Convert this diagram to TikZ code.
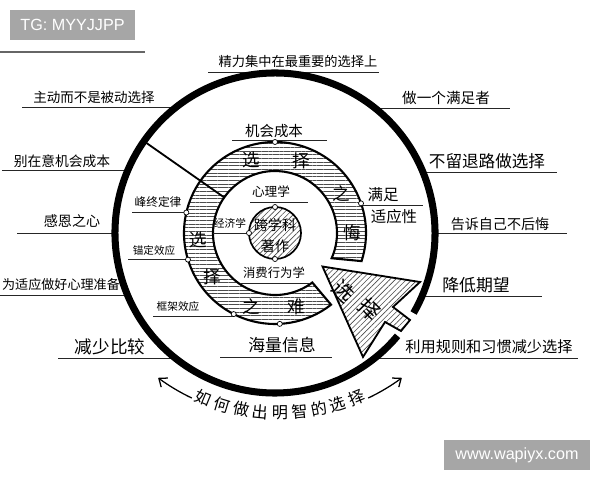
\documentclass[tikz,border=0pt]{standalone}
\usepackage{fontspec}
\setmainfont{Liberation Sans}
\newfontfamily\cjk{Noto Sans CJK SC}
\usetikzlibrary{patterns.meta,arrows.meta,calc}
\tikzset{
  lbl/.style={inner sep=0pt},
  uline/.style={line width=0.7pt, black!85},
  dotnode/.style={circle, draw, fill=white, line width=0.5pt, inner sep=0pt, minimum size=3.6pt},
  band/.style={draw, line width=1.5pt, pattern={Lines[angle=0,distance=2.6pt,line width=0.4pt]}, pattern color=black!70},
  hatch/.style={pattern={Lines[angle=45,distance=2.8pt,line width=0.45pt]}, pattern color=black!70},
  wmbox/.style={fill=black!35, text=white, font=\fontsize{11.5}{12}\selectfont, inner sep=0pt, minimum height=0.75cm},
  barrow/.style={line width=0.9pt, -{Straight Barb[length=5pt,width=8pt]}},
}
% name, size, text, cx, cy, x1, x2, yline
\newcommand\ulab[8]{%
  \node[lbl, font=\cjk\fontsize{#2}{#2}\selectfont] (#1) at (#4,-#5) {#3};
  \coordinate (#1-l) at (#6,-#8);
  \coordinate (#1-r) at (#7,-#8);
  \draw[uline] (#1-l) -- (#1-r);
}
\begin{document}
\begin{tikzpicture}[x=0.025cm,y=0.025cm]
\useasboundingbox (0,0) rectangle (600,-480);
\fill[white] (0,0) rectangle (600,-480);

% watermark and top rule
\node[wmbox, minimum width=3.125cm] (wm1) at (72.5,-25) {TG: MYYJJPP};
\node[wmbox, minimum width=3.65cm] (wm2) at (517,-455) {www.wapiyx.com};
\coordinate (tr1) at (0,-52);
\coordinate (tr2) at (145,-52);
\draw[line width=1.2pt, black!60] (tr1) -- (tr2);

\coordinate (C) at (275,-233);

% outer labels
\ulab{top}{9.4}{精力集中在最重要的选择上}{298}{61}{208}{379}{72}
\ulab{zhudong}{9.6}{主动而不是被动选择}{94}{97}{22}{176}{107}
\ulab{zuoyige}{10.4}{做一个满足者}{446}{98}{376}{510}{108}
\ulab{bieza}{9.8}{别在意机会成本}{62}{161}{2}{128}{170}
\ulab{ganen}{10}{感恩之心}{72}{221}{17}{116}{233}
\ulab{weishi}{9.3}{为适应做好心理准备}{61}{285}{0}{128}{295}
\ulab{jianshao}{12.5}{减少比较}{110}{347}{58}{175}{358}
\ulab{buliu}{11.8}{不留退路做选择}{487}{161}{423}{557}{172}
\ulab{gaosu}{10}{告诉自己不后悔}{500}{224}{435}{567}{233}
\ulab{jiangdi}{12}{降低期望}{476}{285}{422}{542}{296}
\ulab{liyong}{10.8}{利用规则和习惯减少选择}{489}{347}{378}{578}{358}

% outer thick circle (gap for the arrow)
\coordinate (oc1) at ($(C)+(-30:160)$);
\draw[line width=5pt] (oc1) arc[start angle=-30, end angle=320, radius=160];

% band ring
\coordinate (b1) at ($(C)+(-18:91)$);
\coordinate (b2) at ($(C)+(307:62)$);
\draw[band] (b1) arc[start angle=-18, end angle=308, radius=91] -- (b2)
  arc[start angle=307, end angle=-24, radius=62] -- cycle;
\coordinate (rl1) at ($(C)+(145:62)$);
\coordinate (rl2) at ($(C)+(145:157)$);
\draw[line width=1.3pt] (rl1) -- (rl2);

% band characters
\foreach \ch/\ang [count=\k] in {选/108,择/70,之/31,悔/0,选/185,择/215,之/252,难/286}
  \node[lbl, font=\cjk\fontsize{12.5}{12.5}\selectfont] (bc\k) at ($(C)+(\ang:77)$) {\ch};

% inner labels
\ulab{jihui}{10.3}{机会成本}{274}{131}{232}{327}{140}
\ulab{manzu}{11}{满足}{383}{195}{362}{423}{205}
\node[lbl, font=\cjk\fontsize{11}{11}\selectfont] (shiying) at (394,-217) {适应性};
\ulab{fengzhong}{8.3}{峰终定律}{158}{202}{132}{187}{212}
\ulab{maoding}{7.5}{锚定效应}{154}{250}{128}{189}{259}
\ulab{kuangjia}{7.6}{框架效应}{178}{306}{153}{233}{316}
\ulab{hailiang}{12}{海量信息}{282}{345}{220}{332}{357}
\ulab{xinli}{9}{心理学}{271}{192}{250}{308}{202}
\ulab{jingji}{7.6}{经济学}{230}{223}{213}{250}{233}
\ulab{xiaofei}{8.8}{消费行为学}{274}{273}{240}{310}{283}

% core circle
\node[circle, draw, line width=1.2pt, minimum size=1.3cm, inner sep=0pt, hatch] (core) at (C) {};
\node[lbl, font=\cjk\fontsize{10}{10}\selectfont] (core1) at (275,-225) {跨学科};
\node[lbl, font=\cjk\fontsize{10}{10}\selectfont] (core2) at (275,-246) {著作};

% dots
\foreach \ang [count=\k] in {90,19,167,197,243,273}
  \node[dotnode] (bd\k) at ($(C)+(\ang:91)$) {};
\foreach \ang [count=\k] in {90,180,270}
  \node[dotnode] (cd\k) at ($(C)+(\ang:26)$) {};

% big arrow
\coordinate (T) at (322.5,-266.5);
\coordinate (AR) at (420,-282);
\coordinate (ANr) at (393,-307);
\coordinate (AEr) at (410,-320);
\coordinate (AEl) at (401,-331);
\coordinate (ANl) at (385,-322);
\coordinate (AL) at (363,-357);
\draw[line width=1.3pt, line join=miter, preaction={fill=white}, hatch]
  (T) -- (AR) -- (ANr) -- (AEr) -- (AEl) -- (ANl) -- (AL) -- cycle;
\node[lbl, font=\cjk\fontsize{15}{15}\selectfont, rotate=-45] (ax1) at (344,-291) {选};
\node[lbl, font=\cjk\fontsize{15}{15}\selectfont, rotate=-45] (ax2) at (370,-309) {择};

% bottom curved title
\coordinate (C2) at (280,-213);
\foreach \ch [count=\i from 0] in {如,何,做,出,明,智,的,选,择}
  \node[lbl, font=\cjk\fontsize{11.5}{11.5}\selectfont, rotate={247.6+5.6*\i-270}] (bt\i) at ($(C2)+({247.6+5.6*\i}:200)$) {\ch};
\coordinate (bl1) at ($(C2)+(244.5:205)$);
\coordinate (br1) at ($(C2)+(295.5:205)$);
\draw[barrow] (bl1) arc[start angle=244.5, end angle=233.5, radius=205];
\draw[barrow] (br1) arc[start angle=295.5, end angle=306.5, radius=205];
\end{tikzpicture}
\end{document}
